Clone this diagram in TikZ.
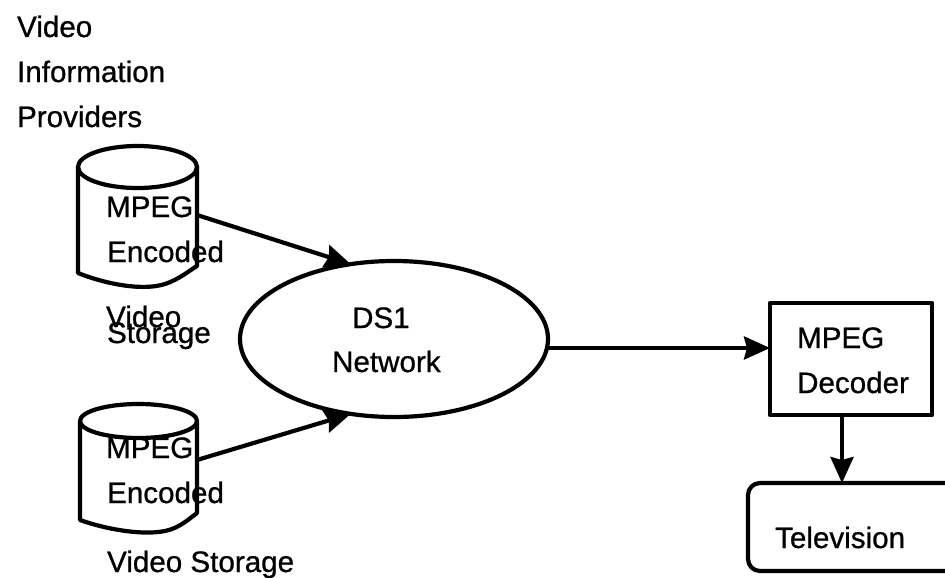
\documentclass[tikz,border=0pt]{standalone}
\usepackage{fontspec}
\setmainfont{Liberation Sans}[FakeBold=0.8]
\usetikzlibrary{arrows.meta,shapes.geometric}
\begin{document}
\begin{tikzpicture}[x=1pt,y=-1pt,
  line width=4.2pt, line join=round,
  lbl/.style={font=\fontsize{29.6}{34}\selectfont, inner sep=0pt, anchor=base west},
  arr/.style={-{Stealth[length=26pt,width=23pt,inset=3pt]}},
  shape box/.style={draw, inner sep=0pt, outer sep=0pt},
]
\useasboundingbox (0,0) rectangle (945,578);

% heading
\node[lbl] (h1) at (15,37) {Video};
\node[lbl] (h2) at (15,82) {Information};
\node[lbl] (h3) at (15,127) {Providers};

% upper storage cylinder
\draw (78,167) -- (78,273) .. controls (100,282) and (140,292) .. (165,284)
      .. controls (180,279) and (190,270) .. (197,266) -- (197,167);
\draw (137.5,167) ellipse [x radius=59.5, y radius=21];
\node[lbl] (m1) at (104,217) {MPEG};
\node[lbl] (e1) at (105,262) {Encoded};
\node[lbl] (v1) at (104,327) {Video};
\node[lbl] (s1) at (105,343) {Storage};
\coordinate (c1out) at (197,215);

% lower storage cylinder
\draw (80,421) -- (80,520) .. controls (102,528) and (140,536) .. (165,531)
      .. controls (180,528) and (190,518) .. (197,513) -- (197,421);
\draw (138.5,421) ellipse [x radius=58.5, y radius=17];
\node[lbl] (m2) at (104,458) {MPEG};
\node[lbl] (e2) at (105,503) {Encoded};
\node[lbl] (v2) at (105,572) {Video Storage};
\coordinate (c2out) at (197,460);

% network
\node[shape box, ellipse, minimum width=308pt, minimum height=156pt] (net) at (394,339) {};
\node[lbl] (ds) at (350,328) {DS1};
\node[lbl] (nw) at (330,372) {Network};

% decoder
\node[shape box, rectangle, minimum width=162pt, minimum height=112pt] (dec) at (851,359) {};
\node[lbl] (dm) at (795,348) {MPEG};
\node[lbl] (dd) at (795,393) {Decoder};

% television
\node[shape box, rectangle, rounded corners=12pt, minimum width=222pt, minimum height=88pt] (tv) at (859,527) {};
\node[lbl] (tt) at (773,548) {Television};

% connectors
\draw[arr] (c1out) -- (net.120);
\draw[arr] (c2out) -- (net.240);
\draw[arr] ([yshift=-9pt]net.east) -- ([yshift=11pt]dec.west);
\draw[arr] ([xshift=-9pt]dec.south) -- ([xshift=-9pt]dec.south |- tv.north);
\end{tikzpicture}
\end{document}
